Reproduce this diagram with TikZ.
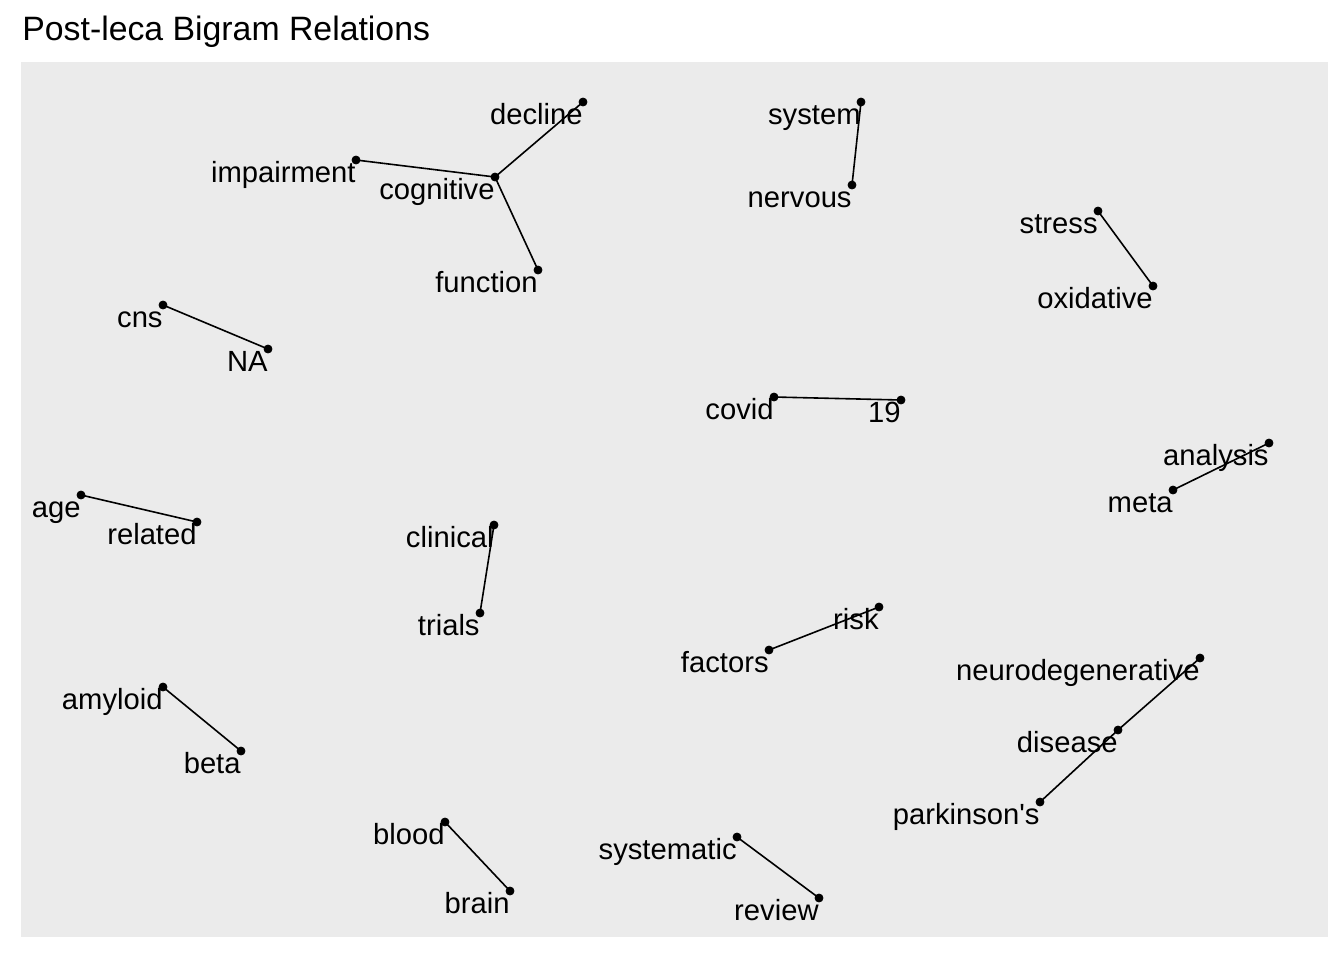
\documentclass[tikz,border=0pt]{standalone}
\usepackage{fontspec}
\setmainfont{Liberation Sans}
\usetikzlibrary{positioning}
\definecolor{panelgrey}{HTML}{EBEBEB}

\begin{document}
\begin{tikzpicture}[x=0.5pt, y=-0.5pt,
    wordpt/.style={draw, circle, fill=black, inner sep=0pt, minimum size=4pt},
    wordlbl/.style={anchor=base east, inner sep=0pt, yshift=-11pt, font=\fontsize{14.6}{16}\selectfont},
    bigram/.style={line width=0.8pt}]
        \useasboundingbox (0, 0) rectangle (1344, 960);
        \fill [panelgrey] (21, 62) rectangle (1328, 937);
        \node [anchor=base west, inner sep=0pt, font=\fontsize{16.9}{20}\selectfont] (Title) at (22, 40) {Post-leca Bigram Relations};

        % cognitive cluster
        \node [wordpt] (Ndecline) at (583, 102) {};
        \node [wordlbl] (Ldecline) at (Ndecline) {decline};
        \node [wordpt] (Nimpairment) at (356, 160) {};
        \node [wordlbl] (Limpairment) at (Nimpairment) {impairment};
        \node [wordpt] (Ncognitive) at (495, 177) {};
        \node [wordlbl] (Lcognitive) at (Ncognitive) {cognitive};
        \node [wordpt] (Nfunction) at (538, 270) {};
        \node [wordlbl] (Lfunction) at (Nfunction) {function};
        \draw [bigram] (Nimpairment.center) -- (Ncognitive.center);
        \draw [bigram] (Ncognitive.center) -- (Ndecline.center);
        \draw [bigram] (Ncognitive.center) -- (Nfunction.center);

        \node [wordpt] (Nsystem) at (861, 102) {};
        \node [wordlbl] (Lsystem) at (Nsystem) {system};
        \node [wordpt] (Nnervous) at (852, 185) {};
        \node [wordlbl] (Lnervous) at (Nnervous) {nervous};
        \draw [bigram] (Nnervous.center) -- (Nsystem.center);

        \node [wordpt] (Nstress) at (1098, 211) {};
        \node [wordlbl] (Lstress) at (Nstress) {stress};
        \node [wordpt] (Noxidative) at (1153, 286) {};
        \node [wordlbl] (Loxidative) at (Noxidative) {oxidative};
        \draw [bigram] (Noxidative.center) -- (Nstress.center);

        \node [wordpt] (Ncns) at (163, 305) {};
        \node [wordlbl] (Lcns) at (Ncns) {cns};
        \node [wordpt] (NNA) at (268, 349) {};
        \node [wordlbl] (LNA) at (NNA) {NA};
        \draw [bigram] (Ncns.center) -- (NNA.center);

        \node [wordpt] (Ncovid) at (774, 397) {};
        \node [wordlbl] (Lcovid) at (Ncovid) {covid};
        \node [wordpt] (Nnineteen) at (901, 400) {};
        \node [wordlbl] (Lnineteen) at (Nnineteen) {19};
        \draw [bigram] (Ncovid.center) -- (Nnineteen.center);

        \node [wordpt] (Nanalysis) at (1269, 443) {};
        \node [wordlbl] (Lanalysis) at (Nanalysis) {analysis};
        \node [wordpt] (Nmeta) at (1173, 490) {};
        \node [wordlbl] (Lmeta) at (Nmeta) {meta};
        \draw [bigram] (Nmeta.center) -- (Nanalysis.center);

        \node [wordpt] (Nage) at (81, 495) {};
        \node [wordlbl] (Lage) at (Nage) {age};
        \node [wordpt] (Nrelated) at (197, 522) {};
        \node [wordlbl] (Lrelated) at (Nrelated) {related};
        \draw [bigram] (Nage.center) -- (Nrelated.center);

        \node [wordpt] (Nclinical) at (494, 525) {};
        \node [wordlbl] (Lclinical) at (Nclinical) {clinical};
        \node [wordpt] (Ntrials) at (480, 613) {};
        \node [wordlbl] (Ltrials) at (Ntrials) {trials};
        \draw [bigram] (Nclinical.center) -- (Ntrials.center);

        \node [wordpt] (Nrisk) at (879, 607) {};
        \node [wordlbl] (Lrisk) at (Nrisk) {risk};
        \node [wordpt] (Nfactors) at (769, 650) {};
        \node [wordlbl] (Lfactors) at (Nfactors) {factors};
        \draw [bigram] (Nrisk.center) -- (Nfactors.center);

        % neurodegenerative chain
        \node [wordpt] (Nneuro) at (1200, 658) {};
        \node [wordlbl] (Lneuro) at (Nneuro) {neurodegenerative};
        \node [wordpt] (Ndisease) at (1118, 730) {};
        \node [wordlbl] (Ldisease) at (Ndisease) {disease};
        \node [wordpt] (Nparkinson) at (1040, 802) {};
        \node [wordlbl] (Lparkinson) at (Nparkinson) {parkinson\textquotesingle s};
        \draw [bigram] (Nneuro.center) -- (Ndisease.center);
        \draw [bigram] (Nparkinson.center) -- (Ndisease.center);

        \node [wordpt] (Namyloid) at (163, 687) {};
        \node [wordlbl] (Lamyloid) at (Namyloid) {amyloid};
        \node [wordpt] (Nbeta) at (241, 751) {};
        \node [wordlbl] (Lbeta) at (Nbeta) {beta};
        \draw [bigram] (Namyloid.center) -- (Nbeta.center);

        \node [wordpt] (Nblood) at (445, 822) {};
        \node [wordlbl] (Lblood) at (Nblood) {blood};
        \node [wordpt] (Nbrain) at (510, 891) {};
        \node [wordlbl] (Lbrain) at (Nbrain) {brain};
        \draw [bigram] (Nblood.center) -- (Nbrain.center);

        \node [wordpt] (Nsystematic) at (737, 837) {};
        \node [wordlbl] (Lsystematic) at (Nsystematic) {systematic};
        \node [wordpt] (Nreview) at (819, 898) {};
        \node [wordlbl] (Lreview) at (Nreview) {review};
        \draw [bigram] (Nsystematic.center) -- (Nreview.center);
    \end{tikzpicture}
\end{document}
